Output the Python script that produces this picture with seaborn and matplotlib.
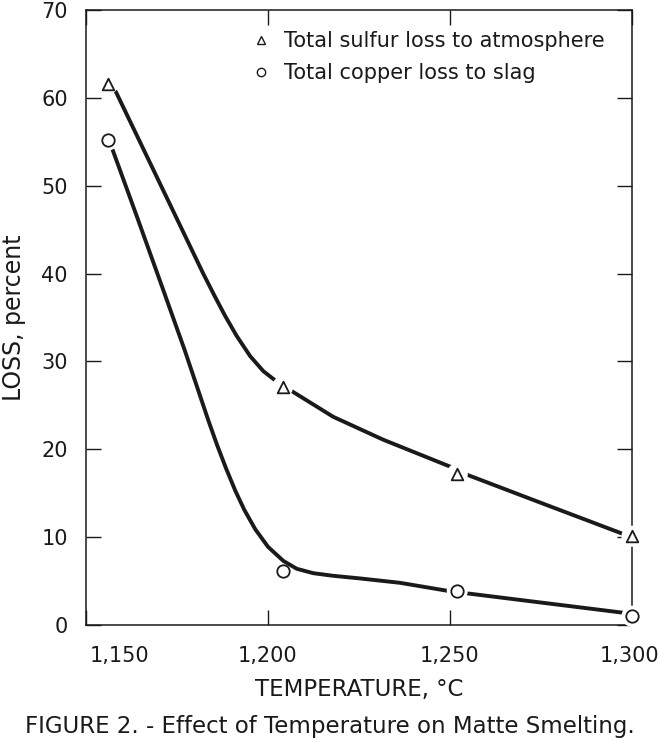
import matplotlib
matplotlib.use("Agg")
import matplotlib.pyplot as plt
from matplotlib.lines import Line2D
from matplotlib.transforms import ScaledTranslation
import seaborn as sns
import pandas as pd

# --- data ---
sulfur_temp = [1156, 1204, 1252, 1300]
sulfur_loss = [61.6, 27.1, 17.2, 10.1]
copper_temp = [1156, 1204, 1252, 1300]
copper_loss = [55.2, 6.2, 3.9, 1.0]

# hand-drawn smooth curves
sulfur_curve_temp = [1158.2, 1182.2, 1185.4, 1188.2, 1191.4,
                     1195.1, 1198.7, 1202.4, 1207.0, 1217.9, 1231.6, 1250.8,
                     1254.7, 1275.0, 1298.6]
sulfur_curve_loss = [60.7, 40.0, 37.4, 35.2, 32.9,
                     30.6, 28.9, 27.7, 26.5, 23.7, 21.1, 17.9,
                     17.1, 13.9, 10.2]
copper_curve_temp = [1157.3, 1163.8, 1170.3, 1177.1, 1183.6, 1186.0, 1188.5,
                     1191.0, 1193.5, 1196.5, 1200.0, 1204.2, 1207.9, 1212.4,
                     1217.9, 1225.3, 1236.3, 1249.2, 1254.7, 1297.5]
copper_curve_loss = [54.1, 46.7, 39.2, 31.3, 23.3, 20.5, 17.8,
                     15.3, 13.1, 10.9, 8.9, 7.3, 6.4, 5.9,
                     5.6, 5.3, 4.8, 3.9, 3.6, 1.4]

x_ticks = [1150, 1200, 1250, 1300]
x_tick_labels = ["1,150", "1,200", "1,250", "1,300"]
y_ticks = [0, 10, 20, 30, 40, 50, 60, 70]

legend_labels = ["Total sulfur loss to atmosphere", "Total copper loss to slag"]
x_label = "TEMPERATURE, \u00b0C"
y_label = "LOSS, percent"
caption = "FIGURE 2. - Effect of Temperature on Matte Smelting."

sns.set_theme(style="white")
plt.rcParams["font.family"] = ["DejaVu Sans"]

ink = "#1a1a1a"
fig = plt.figure(figsize=(6.6, 7.42), dpi=100)
ax = fig.add_axes([86 / 660, 1 - 625 / 742, 546 / 660, 615 / 742])

sc = pd.DataFrame({"t": sulfur_curve_temp, "v": sulfur_curve_loss})
cc = pd.DataFrame({"t": copper_curve_temp, "v": copper_curve_loss})
sns.lineplot(data=sc, x="t", y="v", sort=False, estimator=None, color=ink,
             linewidth=2.8, ax=ax, zorder=2)
sns.lineplot(data=cc, x="t", y="v", sort=False, estimator=None, color=ink,
             linewidth=2.8, ax=ax, zorder=2)

sp = pd.DataFrame({"t": sulfur_temp, "v": sulfur_loss})
cp = pd.DataFrame({"t": copper_temp, "v": copper_loss})
# white halos = gaps in the curve around the points (none at the 1,204 copper point)
sns.scatterplot(data=sp, x="t", y="v", marker="o", s=230, color="white",
                edgecolor="none", ax=ax, zorder=3, clip_on=False)
sns.scatterplot(data=cp.drop(index=1), x="t", y="v", marker="o", s=230, color="white",
                edgecolor="none", ax=ax, zorder=3, clip_on=False)
sns.scatterplot(data=sp, x="t", y="v", marker="^", s=70, facecolor="white",
                edgecolor=ink, linewidth=1.3, ax=ax, zorder=4, clip_on=False)
sns.scatterplot(data=cp, x="t", y="v", marker="o", s=80, facecolor="white",
                edgecolor=ink, linewidth=1.3, ax=ax, zorder=4, clip_on=False)

ax.set_xlim(1150, 1300)
ax.set_ylim(0, 70)
ax.set_xticks(x_ticks)
ax.set_xticklabels(x_tick_labels)
ax.set_yticks(y_ticks)
ax.tick_params(axis="both", direction="in", length=11, width=1.0, color=ink,
               labelsize=15, labelcolor=ink, top=True, right=True,
               bottom=True, left=True)
ax.tick_params(axis="y", pad=13)
ax.tick_params(axis="x", pad=15)
for s in ax.spines.values():
    s.set_color(ink)
    s.set_linewidth(1.1)

xt = ax.get_xticklabels()
xt[0].set_transform(xt[0].get_transform() + ScaledTranslation(0.33, 0, fig.dpi_scale_trans))
xt[-1].set_transform(xt[-1].get_transform() + ScaledTranslation(-0.03, 0, fig.dpi_scale_trans))

ax.set_xlabel(x_label, fontsize=16.5, color=ink)
ax.set_ylabel(y_label, fontsize=17, color=ink)
ax.xaxis.set_label_coords(0.5, -0.086)
ax.yaxis.set_label_coords(-0.11, 0.5)

handles = [
    Line2D([], [], marker="^", ls="none", mfc="white", mec=ink, ms=6, mew=1.0),
    Line2D([], [], marker="o", ls="none", mfc="white", mec=ink, ms=6, mew=1.0),
]
ax.legend(handles, legend_labels, loc="upper left", bbox_to_anchor=(0.283, 0.983),
          frameon=False, fontsize=15, handlelength=1.0, handletextpad=0.6,
          labelspacing=0.6, borderpad=0, labelcolor=ink)

fig.text(0.5, 1 - 727 / 742, caption, ha="center", va="center", fontsize=16.5,
         color=ink)

fig.savefig("out.png", dpi=100)
